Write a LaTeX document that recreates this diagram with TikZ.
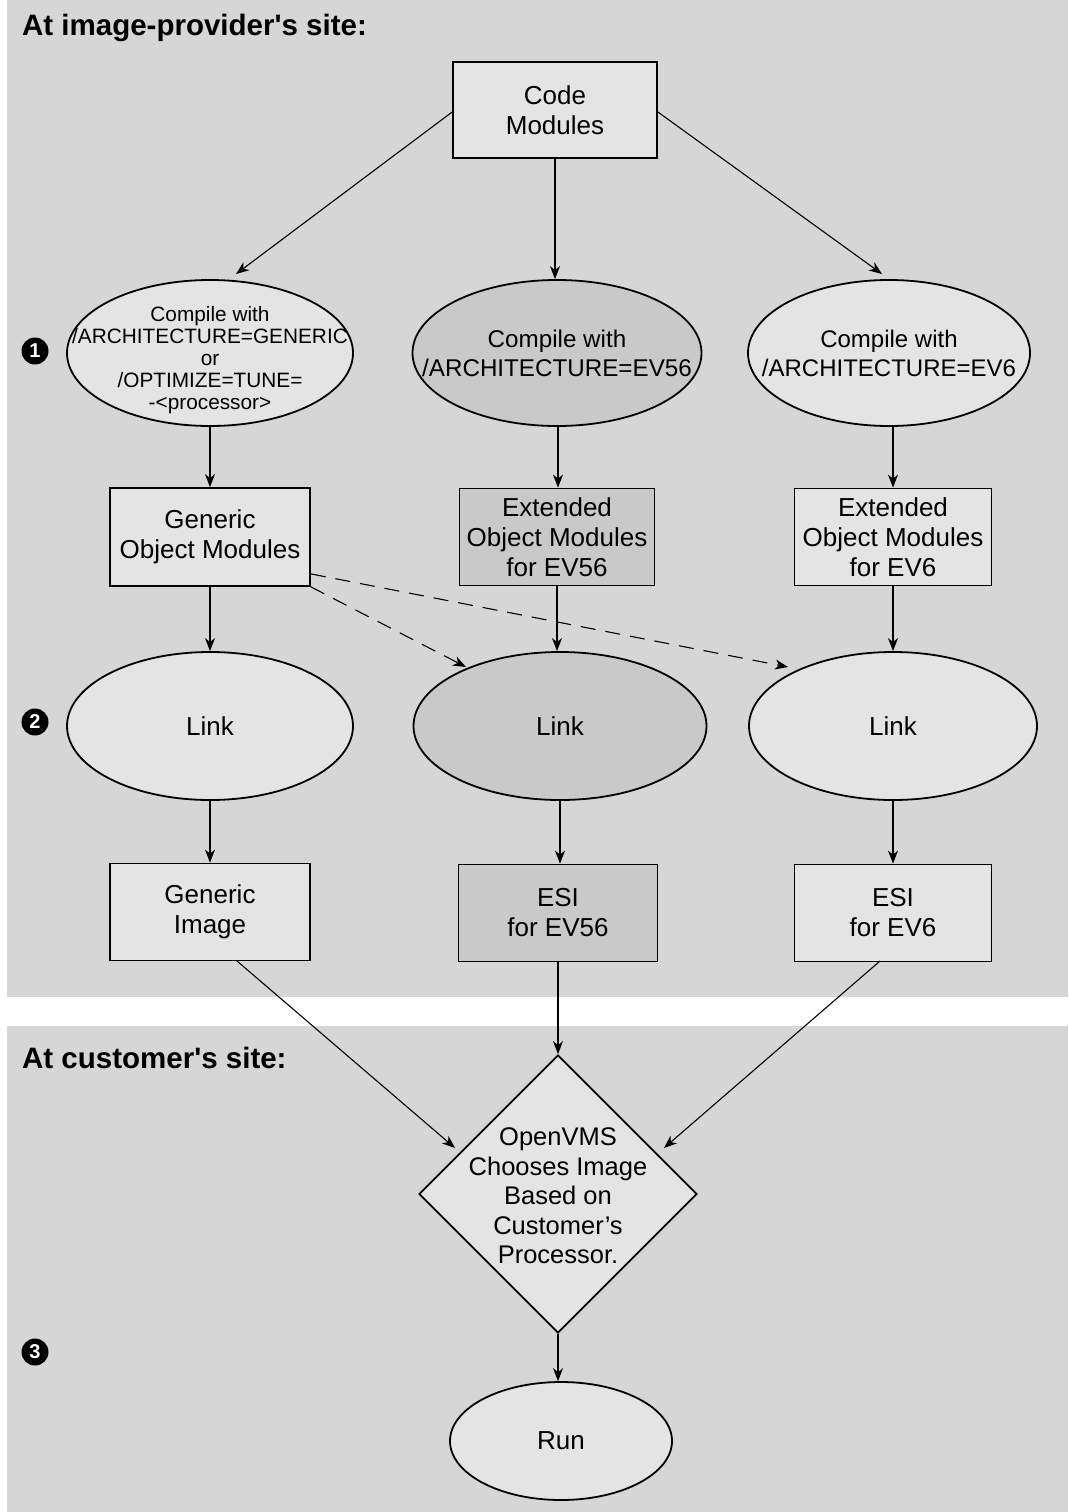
\documentclass[tikz,border=0pt]{standalone}
\usepackage{fontspec}
\setmainfont{Liberation Sans}[Ligatures=TeXOff]
\usetikzlibrary{shapes.geometric,arrows.meta}
\definecolor{panel}{HTML}{D6D6D6}
\definecolor{lightfill}{HTML}{E4E4E4}
\definecolor{darkfill}{HTML}{C9C9C9}
\tikzset{
  base/.style={draw=black, line width=1.8pt, inner sep=0pt, align=center,
    font=\fontsize{26}{30}\selectfont},
  boxnode/.style={base, rectangle, fill=lightfill},
  boxdark/.style={base, rectangle, fill=darkfill},
  ellnode/.style={base, ellipse, fill=lightfill},
  elldark/.style={base, ellipse, fill=darkfill},
  txt/.style={inner sep=0pt, align=center, font=\fontsize{26}{30}\selectfont},
  conn/.style={line width=1.1pt, -{Stealth[length=13pt,width=10pt,inset=4pt]}},
  dconn/.style={conn, dash pattern=on 15pt off 10pt},
  numcirc/.style={circle, fill=black, text=white, inner sep=0pt, minimum size=27pt,
    font=\fontsize{20}{20}\selectfont\bfseries},
  header/.style={anchor=west, inner sep=0pt, font=\fontsize{29.5}{32}\selectfont\bfseries}
}
\begin{document}
\begin{tikzpicture}[x=1pt,y=-1pt]
\useasboundingbox (0,0) rectangle (1068,1512);
\fill[white] (0,0) rectangle (1068,1512);
\fill[panel] (7,0) rectangle (1068,997);
\fill[panel] (7,1026) rectangle (1068,1512);

\node[header] (h1) at (22,28) {At image-provider's site:};
\node[header] (h2) at (22,1058) {At customer's site:};

\node[numcirc] (n1) at (35,351) {1};
\node[numcirc] (n2) at (35,722) {2};
\node[numcirc] (n3) at (35,1352) {3};

\node[boxnode, minimum width=204pt, minimum height=96pt] (code) at (555,110) {Code\\Modules};

\node[ellnode, minimum width=286pt, minimum height=146pt] (e1) at (210,353) {};
\node[txt, font=\fontsize{20.8}{22}\selectfont] (e1t) at (210,360)
  {Compile with\\/ARCHITECTURE=GENERIC\\or\\/OPTIMIZE=TUNE=\\-<processor>};
\node[elldark, minimum width=289pt, minimum height=146pt] (e2) at (557,353) {};
\node[txt, font=\fontsize{24.2}{29}\selectfont] (e2t) at (e2) {Compile with\\/ARCHITECTURE=EV56};
\node[ellnode, minimum width=282pt, minimum height=146pt] (e3) at (889,353) {};
\node[txt, font=\fontsize{24}{29}\selectfont] (e3t) at (e3) {Compile with\\/ARCHITECTURE=EV6};

\node[boxnode, minimum width=200pt, minimum height=98pt] (o1) at (210,537) {Generic\\Object Modules};
\node[boxdark, minimum width=195pt, minimum height=97pt] (o2) at (557,537) {Extended\\Object Modules\\for EV56};
\node[boxnode, minimum width=197pt, minimum height=97pt] (o3) at (893,537) {Extended\\Object Modules\\for EV6};

\node[ellnode, minimum width=286pt, minimum height=148pt] (l1) at (210,726) {Link};
\node[elldark, minimum width=293pt, minimum height=148pt] (l2) at (560,726) {Link};
\node[ellnode, minimum width=288pt, minimum height=148pt] (l3) at (893,726) {Link};

\node[boxnode, minimum width=200pt, minimum height=97pt] (i1) at (210,912) {Generic\\Image};
\node[boxdark, minimum width=199pt, minimum height=97pt] (i2) at (558,913) {ESI\\for EV56};
\node[boxnode, minimum width=197pt, minimum height=97pt] (i3) at (893,913) {ESI\\for EV6};

\node[base, diamond, fill=lightfill, minimum width=278pt, minimum height=278pt] (dec) at (558,1194) {};
\node[txt, font=\fontsize{25.5}{29.5}\selectfont] (dect) at (558,1196) {OpenVMS\\Chooses Image\\Based on\\Customer’s\\Processor.};

\node[ellnode, minimum width=222pt, minimum height=118pt] (run) at (561,1441) {Run};

% connectors
\coordinate (c1e) at (236,274);
\coordinate (c3e) at (882,274);
\draw[conn] ([yshift=-2pt]code.west) -- (c1e);
\draw[conn] (code.south) -- (code.south |- e2.north);
\draw[conn] ([yshift=-2pt]code.east) -- (c3e);

\draw[conn] (e1.south) -- (o1.north);
\draw[conn] ([xshift=1pt]e2.south) -- ([xshift=1pt]o2.north);
\draw[conn] ([xshift=4pt]e3.south) -- (o3.north);

\draw[conn] (o1.south) -- (l1.north);
\draw[conn] (o2.south) -- (o2.south |- l2.north);
\draw[conn] (o3.south) -- (l3.north);

\coordinate (d1e) at (466,667);
\coordinate (d2e) at (788,667);
\draw[dconn] (o1.south east) -- (d1e);
\draw[dconn] ([yshift=13pt]o1.south east) -- (d2e);

\draw[conn] (l1.south) -- (i1.north);
\draw[conn] (l2.south) -- ([xshift=2pt]i2.north);
\draw[conn] (l3.south) -- (i3.north);

\coordinate (g1s) at (237,961);
\coordinate (g1e) at (455,1148);
\coordinate (g3s) at (880,961);
\coordinate (g3e) at (664,1148);
\draw[conn] (g1s) -- (g1e);
\draw[conn] (i2.south) -- (dec.north);
\draw[conn] (g3s) -- (g3e);

\draw[conn] (dec.south) -- (dec.south |- run.north);
\end{tikzpicture}
\end{document}
